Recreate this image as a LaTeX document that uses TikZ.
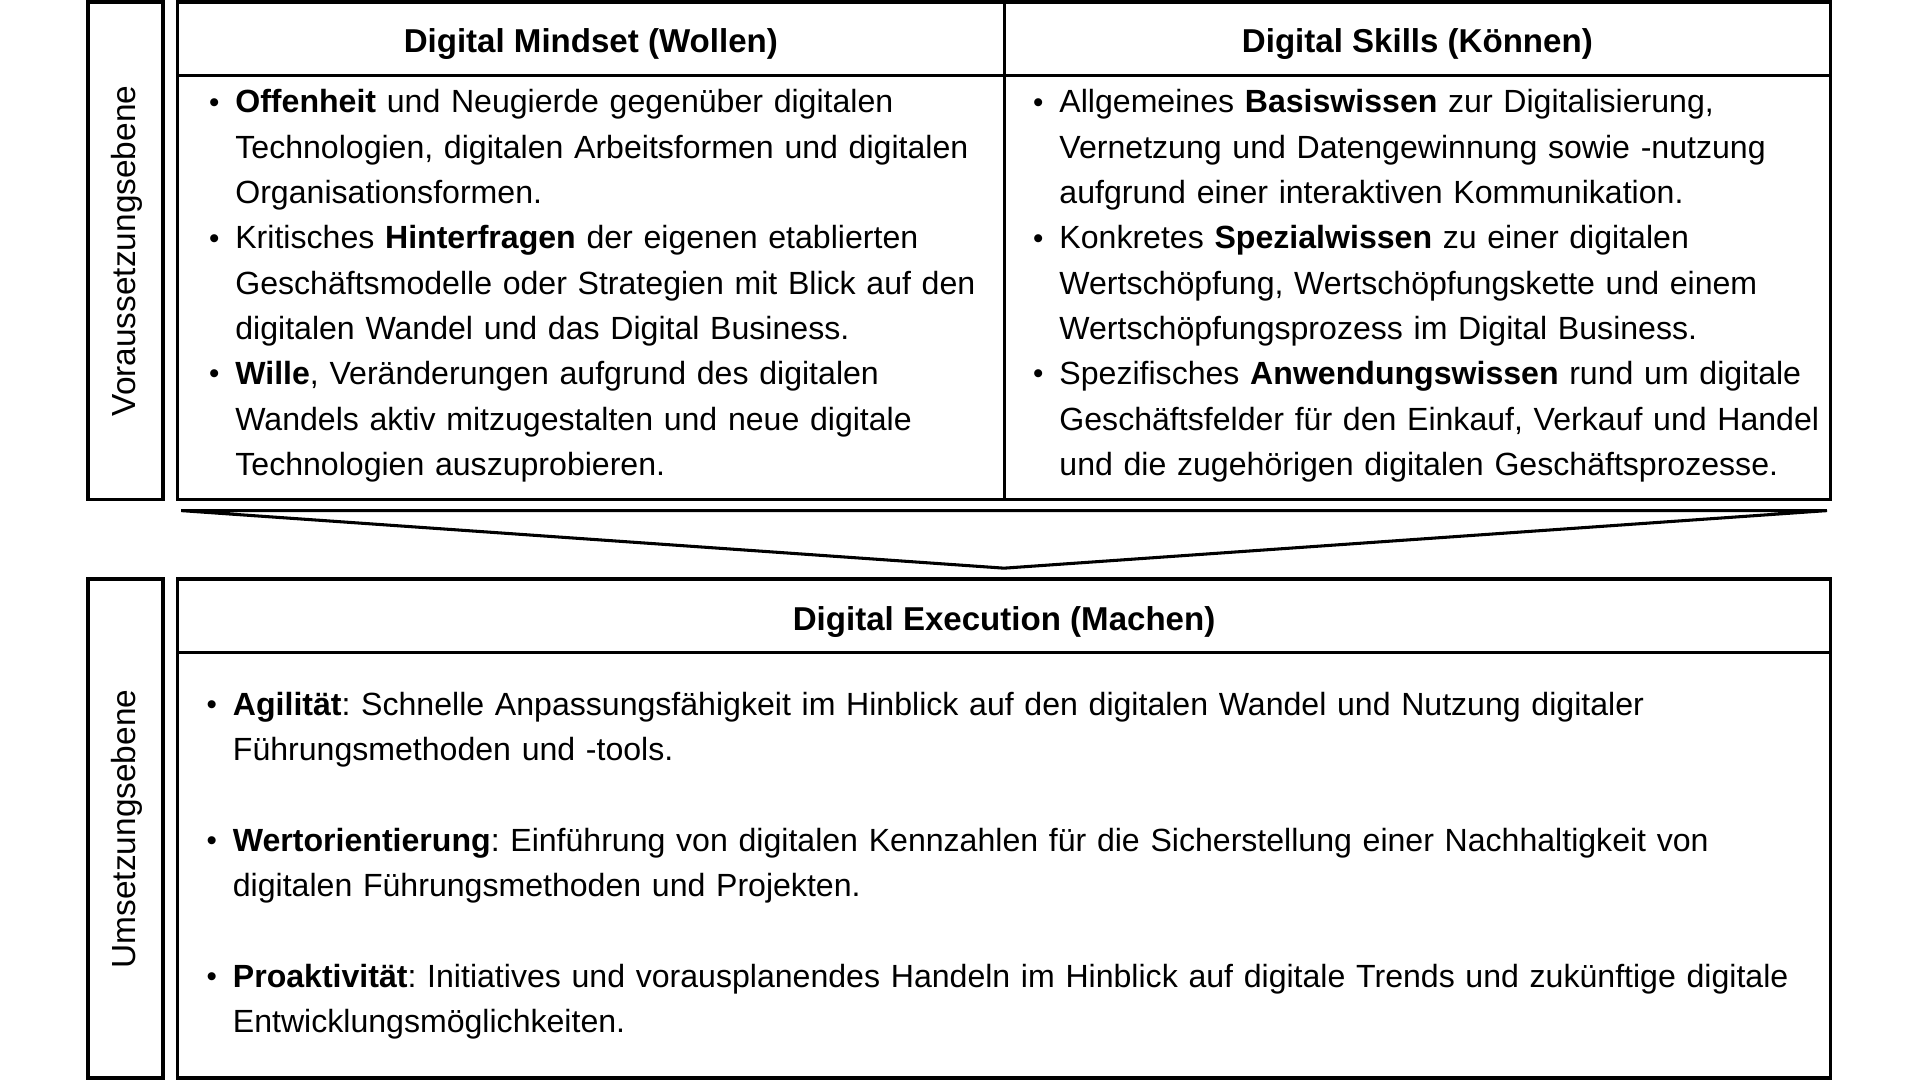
\documentclass[tikz,border=0pt]{standalone}
\usepackage{fontspec}
\usepackage{graphicx}
\setmainfont{Liberation Sans}
\frenchspacing
\newcommand\tstrut{\rule{0pt}{22pt}}
\newcommand\bul{\tstrut\llap{\makebox[21.5pt][l]{\raisebox{0.6pt}{\scalebox{0.92}{\textbullet}}}}}
\newcommand\bodyfont{\fontsize{26.2}{37}\selectfont\frenchspacing}
\newcommand\headfont{\fontsize{27}{37}\selectfont\bfseries}
\newcommand\sidefont{\fontsize{27.3}{37}\selectfont}
\begin{document}
\begin{tikzpicture}[x=1pt,y=-1pt,
  frame/.style={draw=black, line width=3pt},
  rule/.style={draw=black, line width=2.5pt},
  body/.style={anchor=north west, inner sep=0pt, align=left, text width=660pt, font=\bodyfont},
  wide/.style={body, text width=1295pt},
  head/.style={anchor=base, inner sep=0pt, font=\headfont},
  side/.style={rotate=90, inner sep=0pt, font=\sidefont}]
\useasboundingbox (0,0) rectangle (1568,882);
\fill[white] (0,0) rectangle (1568,882);
% upper level
\draw[frame] (72,1.5) rectangle (133,408);
\draw[frame] (145,1.5) rectangle (1495,408);
\draw[rule] (145,62) -- (1495,62);
\draw[rule] (820,1.5) -- (820,408);
\node[side] (vor) at (104,205) {Voraussetzungsebene};
\node[head] (hm) at (482.5,42.5) {Digital Mindset (Wollen)};
\node[head] (hs) at (1157.5,42.5) {Digital Skills (Können)};
\node[body] (m1) at (192,70) {\bul\textbf{Offenheit} und Neugierde gegenüber digitalen\\Technologien, digitalen Arbeitsformen und digitalen\\Organisationsformen.};
\node[body] (m2) at (192,181) {\bul Kritisches \textbf{Hinterfragen} der eigenen etablierten\\Geschäftsmodelle oder Strategien mit Blick auf den\\digitalen Wandel und das Digital Business.};
\node[body] (m3) at (192,292) {\bul\textbf{Wille}, Veränderungen aufgrund des digitalen\\Wandels aktiv mitzugestalten und neue digitale\\Technologien auszuprobieren.};
\node[body] (s1) at (865,70) {\bul Allgemeines \textbf{Basiswissen} zur Digitalisierung,\\Vernetzung und Datengewinnung sowie -nutzung\\aufgrund einer interaktiven Kommunikation.};
\node[body] (s2) at (865,181) {\bul Konkretes \textbf{Spezialwissen} zu einer digitalen\\Wertschöpfung, Wertschöpfungskette und einem\\Wertschöpfungsprozess im Digital Business.};
\node[body] (s3) at (865,292) {\bul Spezifisches \textbf{Anwendungswissen} rund um digitale\\Geschäftsfelder für den Einkauf, Verkauf und Handel\\und die zugehörigen digitalen Geschäftsprozesse.};
% arrow
\draw[rule, line join=miter] (148,417) -- (1492,417) -- (820,464) -- cycle;
% lower level
\draw[frame] (72,473) rectangle (133,880.5);
\draw[frame] (145,473) rectangle (1495,880.5);
\draw[rule] (145,533) -- (1495,533);
\node[side] (ums) at (104,677) {Umsetzungsebene};
\node[head] (he) at (820,514.5) {Digital Execution (Machen)};
\node[wide] (e1) at (190,562) {\bul\textbf{Agilität}: Schnelle Anpassungsfähigkeit im Hinblick auf den digitalen Wandel und Nutzung digitaler\\Führungsmethoden und -tools.};
\node[wide] (e2) at (190,673) {\bul\textbf{Wertorientierung}: Einführung von digitalen Kennzahlen für die Sicherstellung einer Nachhaltigkeit von\\digitalen Führungsmethoden und Projekten.};
\node[wide] (e3) at (190,784) {\bul\textbf{Proaktivität}: Initiatives und vorausplanendes Handeln im Hinblick auf digitale Trends und zukünftige digitale\\Entwicklungsmöglichkeiten.};
\end{tikzpicture}
\end{document}
